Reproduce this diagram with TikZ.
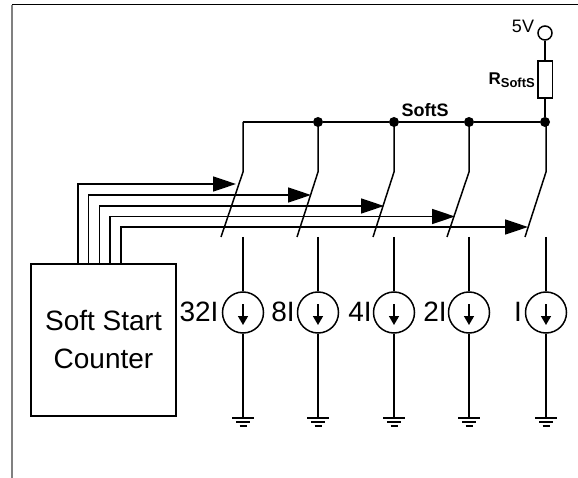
\documentclass[tikz,border=0pt]{standalone}
\usepackage{fontspec}
\setmainfont{Liberation Sans}
\usetikzlibrary{arrows.meta}
\tikzset{
  wire/.style={line width=1.5pt},
  dot/.style={circle, fill=black, inner sep=0pt, minimum size=10pt},
  srcnode/.style={circle, draw, line width=1.5pt, inner sep=0pt, minimum size=41pt},
  ctrl/.style={wire, -{Triangle[length=23pt,width=15pt]}, shorten >=-1pt},
  lbl/.style={inner sep=0pt, font=\fontsize{28}{30}\selectfont}
}
\newcommand{\gnd}[1]{
  \draw[wire] (#1) ++(-11,0) -- ++(22,0);
  \draw[wire] (#1) ++(-7,4) -- ++(14,0);
  \draw[wire] (#1) ++(-3.5,8) -- ++(7,0);
}
\begin{document}
\begin{tikzpicture}[x=1pt, y=-1pt]
\useasboundingbox (0,0) rectangle (578,478);
% frame
\draw[gray, line width=2pt] (12,478) -- (12,5);
\draw[line width=1pt] (12,5) -- (578,5);

% counter
\node[draw, wire, minimum width=145pt, minimum height=152pt, inner sep=0pt, align=center,
      font=\fontsize{28}{38}\selectfont] (counter) at (103.5,340) {Soft Start\\Counter};

% bus
\node[dot] (d1) at (318,122) {};
\node[dot] (d2) at (394,122) {};
\node[dot] (d3) at (469,122) {};
\node[dot] (d4) at (545,122) {};
\coordinate (d0) at (243,122);
\draw[wire] (d0) -- (d1) -- (d2) -- (d3) -- (d4);
\node[inner sep=0pt, font=\bfseries\fontsize{18}{20}\selectfont] (softs) at (425,110) {SoftS};

% supply
\node[circle, draw, wire, inner sep=0pt, minimum size=14pt] (vdd) at (545,33) {};
\node[draw, wire, inner sep=0pt, minimum width=14.5pt, minimum height=37pt] (rs) at (545,79.5) {};
\draw[wire] (vdd) -- (rs);
\draw[wire] (rs) -- (d4);
\node[inner sep=0pt, font=\fontsize{18}{20}\selectfont] (vlabel) at (523,26) {5V};
\node[inner sep=0pt, anchor=east, font=\bfseries\fontsize{17}{19}\selectfont] (rlabel) at (535,80)
  {R\raisebox{-3pt}{\fontsize{13}{14}\selectfont SoftS}};

% switches and current sources
\foreach \name/\x/\bx/\ylab/\lx in {a/243/221/32I/199, b/318/297/8I/283, c/394/373/4I/360, d/469/447/2I/435, e/546/525/I/518} {
  \coordinate (top\name) at (\x,122);
  \coordinate (pivot\name) at (\x,172);
  \coordinate (blade\name) at (\bx,237);
  \coordinate (low\name) at (\x,237);
  \coordinate (gnd\name) at (\x,418);
  \node[srcnode] (src\name) at (\x,312.5) {};
  \node[lbl] (lab\name) at (\lx,312) {\ylab};
  \coordinate (ia\name) at (\x,304);
  \coordinate (ib\name) at (\x,325);
  \draw[wire] (top\name) -- (pivot\name) -- (blade\name);
  \draw[wire] (low\name) -- (src\name) -- (gnd\name);
  \draw[wire, -{Triangle[length=9pt,width=10pt]}] (ia\name) -- (ib\name);
  \gnd{gnd\name}
}

% control lines
\foreach \name/\x/\y/\tx in {a/78/184/235, b/88.5/195/310, c/99.5/206/383, d/110/216.5/454, e/121/227/527} {
  \coordinate (out\name) at (\x,264);
  \coordinate (bend\name) at (\x,\y);
  \coordinate (tip\name) at (\tx,\y);
  \draw[ctrl] (out\name) -- (bend\name) -- (tip\name);
}
\end{tikzpicture}
\end{document}
